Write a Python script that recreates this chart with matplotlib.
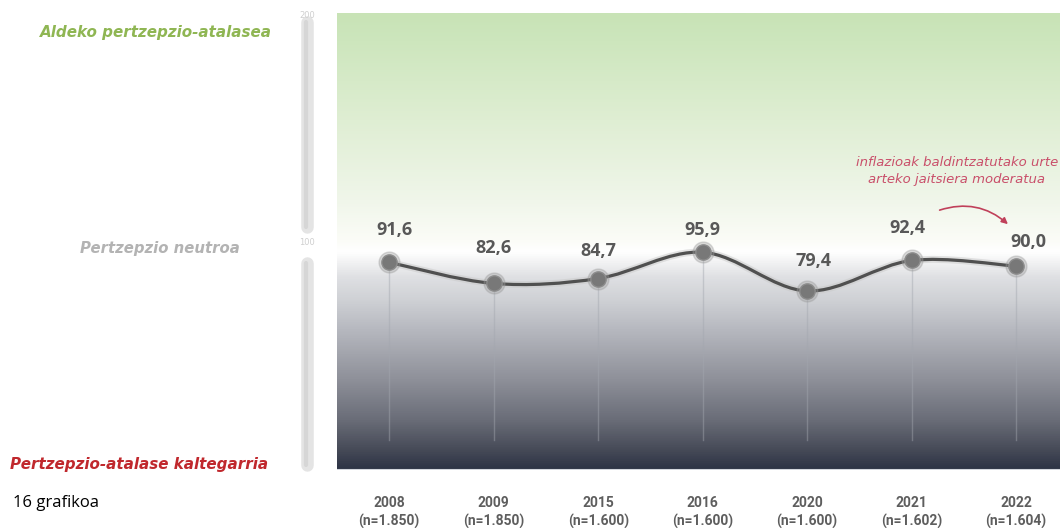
import matplotlib
matplotlib.use("Agg")
import matplotlib.pyplot as plt
import numpy as np
from matplotlib.colors import LinearSegmentedColormap
from matplotlib.path import Path
from matplotlib.patches import PathPatch
import matplotlib.transforms as mtransforms

# data
years = ["2008", "2009", "2015", "2016", "2020", "2021", "2022"]
sample_sizes = ["1.850", "1.850", "1.600", "1.600", "1.600", "1.602", "1.604"]
values = [91.6, 82.6, 84.7, 95.9, 79.4, 92.4, 90.0]
value_labels = ["91,6", "82,6", "84,7", "95,9", "79,4", "92,4", "90,0"]
scale_ticks = [100, 200]
side_labels = ["Aldeko pertzepzio-atalasea", "Pertzepzio neutroa",
               "Pertzepzio-atalase kaltegarria"]
note_text = "inflazioak baldintzatutako urte\narteko jaitsiera moderatua"
caption = "16 grafikoa"

# label offsets (pixels) -- styling only
lab_dx = [5, 0, 0, 0, 6, -4, 12]
lab_dy = [32, 35, 28, 22, 30, 32, 24]

W, H = 1060, 528
fig = plt.figure(figsize=(W / 100, H / 100), dpi=100)
fig.patch.set_facecolor("white")

ax = fig.add_axes([337 / W, 1 - 470 / H, (W - 337) / W, 457 / H])
ax.set_xlim(-0.5, 6.42)
ax.set_ylim(3, 198)
for s in ax.spines.values():
    s.set_visible(False)
ax.set_yticks([])

# background gradient (0 = bottom, 1 = top)
stops = [
    (0.0, "#2c3345"), (0.044, "#474b58"), (0.109, "#6a6d78"),
    (0.197, "#8e9099"), (0.306, "#b6b8bf"), (0.372, "#cfd1d5"),
    (0.422, "#dfe0e3"), (0.477, "#ffffff"), (0.503, "#fbfcf7"),
    (0.591, "#f0f6ea"), (0.766, "#dfeed3"), (0.941, "#cde6bd"),
    (1.0, "#c8e3b6"),
]
cmap = LinearSegmentedColormap.from_list("bg", stops)
grad = np.linspace(0, 1, 512).reshape(-1, 1)
ax.imshow(grad, cmap=cmap, origin="lower", aspect="auto",
          extent=[0, 1, 0, 1], transform=ax.transAxes, zorder=0)
ax.axhline(3, color="#d3d7de", lw=1.5, zorder=1)

x = np.arange(len(values))
y = np.array(values)

# faint drop lines
for xi, yi in zip(x, y):
    ax.plot([xi, xi], [yi, 16], color="#a3a7af", lw=1.0, alpha=0.45, zorder=2)

# smooth line (Catmull-Rom as cubic Bezier)
pts = np.column_stack([x, y]).astype(float)
ext = np.vstack([pts[0], pts, pts[-1]])
verts = [tuple(pts[0])]
codes = [Path.MOVETO]
for i in range(len(pts) - 1):
    p0, p1, p2, p3 = ext[i], ext[i + 1], ext[i + 2], ext[i + 3]
    c1 = p1 + (p2 - p0) / 6.0
    c2 = p2 - (p3 - p1) / 6.0
    verts += [tuple(c1), tuple(c2), tuple(p2)]
    codes += [Path.CURVE4] * 3
ax.add_patch(PathPatch(Path(verts, codes), fill=False, ec="#c9c9c9",
                       lw=5, alpha=0.5, zorder=3))
ax.add_patch(PathPatch(Path(verts, codes), fill=False, ec="#505050",
                       lw=2.3, zorder=4, capstyle="round"))

ax.plot(x, y, "o", ms=15, color="#9a9a9a", alpha=0.35, zorder=5)
ax.plot(x, y, "o", ms=11, color="#787878", mec="#8c8c8c", mew=1, zorder=6)

for xi, yi, lab, dx, dy in zip(x, y, value_labels, lab_dx, lab_dy):
    ax.annotate(lab, (xi, yi), xytext=(dx, dy), textcoords="offset pixels",
                ha="center", va="center", fontsize=13, fontweight="bold",
                color="#585858", family=["Open Sans", "DejaVu Sans"], zorder=7)

# x labels
ax.set_xticks(x)
ax.set_xticklabels([f"{yr}\n(n={n})" for yr, n in zip(years, sample_sizes)],
                   fontsize=10, fontweight="bold", color="#5e5e5e",
                   family=["Liberation Sans Narrow", "Roboto", "DejaVu Sans"],
                   linespacing=1.3)
ax.tick_params(axis="x", length=0, pad=19)

# left scale bar (x in figure coords, y in data)
blend = mtransforms.blended_transform_factory(fig.transFigure, ax.transData)
bx = 307 / W
for y0, y1 in [(194, 106.5), (91.5, 5)]:
    ax.plot([bx, bx], [y0, y1], transform=blend, color="#e4e4e4", lw=9,
            solid_capstyle="round", clip_on=False, zorder=1)
    ax.plot([bx - 1 / W, bx - 1 / W], [y0, y1], transform=blend,
            color="#d6d6d6", lw=3, solid_capstyle="round", clip_on=False,
            zorder=1)
for t in scale_ticks:
    ax.text(bx, min(t, 197), str(t), transform=blend, ha="center",
            va="center", fontsize=6, color="#cfcfcf", clip_on=False)

# side labels
side_x = [272, 240, 268]
side_y = [32, 248, 465]
side_col = ["#8fb653", "#b3b3b3", "#c0282d"]
side_w = ["bold", "semibold", "bold"]
side_fs = [10.9, 10.7, 10.9]
for lab, xx, yy, c, w, fs in zip(side_labels, side_x, side_y, side_col,
                                  side_w, side_fs):
    fig.text(xx / W, 1 - yy / H, lab, ha="right", va="center",
             fontsize=fs, style="italic", fontweight=w, color=c)

# annotation
fig.text(957 / W, 1 - 171 / H, note_text, ha="center", va="center",
         fontsize=9.5, style="italic", color="#c94f6a", linespacing=1.45)
ax.annotate("", xy=(1010, H - 226), xycoords="figure pixels",
            xytext=(937, H - 211), textcoords="figure pixels",
            arrowprops=dict(arrowstyle="-|>", color="#c0405a", lw=1.2,
                            mutation_scale=9,
                            connectionstyle="arc3,rad=-0.3"))

fig.text(13 / W, 1 - 503 / H, caption, ha="left", va="center", fontsize=12,
         color="black", family=["Open Sans", "DejaVu Sans"])

fig.savefig("out.png", dpi=100)
